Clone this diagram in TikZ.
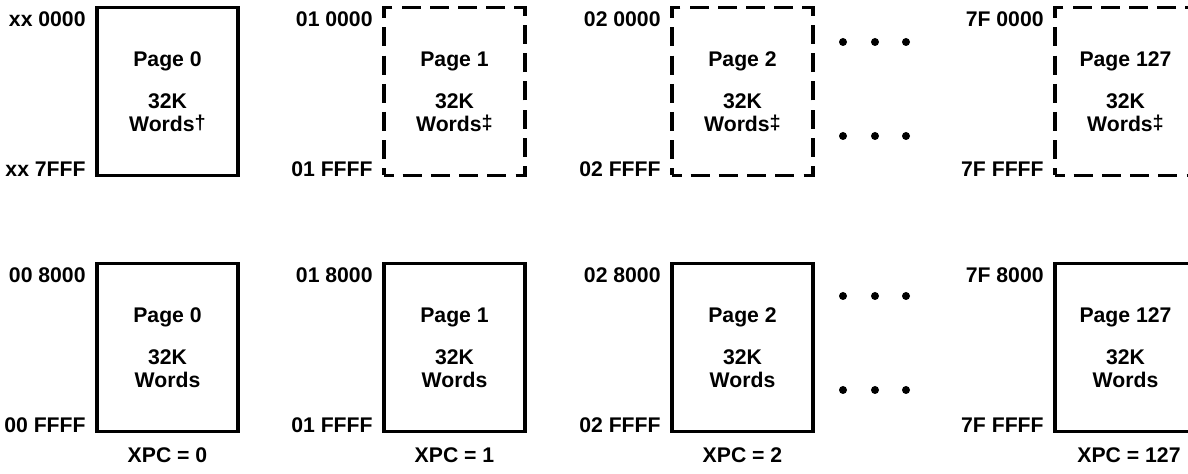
\documentclass[tikz,border=0pt]{standalone}
\usepackage{fontspec}
\setmainfont{Liberation Sans}
\usetikzlibrary{calc}

\tikzset{
  page/.style={draw, line width=1.6pt, rectangle, outer sep=0pt, inner sep=0pt,
    minimum width=70.5pt, minimum height=84pt, align=center,
    font=\fontsize{10.6}{10.6}\selectfont\bfseries},
  ghost/.style={page, dash pattern=on 9.5pt off 4.6pt, dash phase=4.75pt},
  addr/.style={inner sep=0pt, font=\fontsize{10.6}{10.6}\selectfont\bfseries},
  xpc/.style={inner sep=0pt, font=\fontsize{10.6}{10.6}\selectfont\bfseries}
}
\newcommand{\pgtext}[2]{#1\\[10.4pt]32K\\[1pt]Words#2}
\newcommand{\dg}{\raisebox{1pt}{\fontsize{10}{10}\selectfont †}}
\newcommand{\ddg}{\raisebox{1pt}{\fontsize{10}{10}\selectfont ‡}}

\begin{document}
\begin{tikzpicture}[x=0.5pt, y=-0.5pt]
\useasboundingbox (0,0) rectangle (1188,474);

% Top row
\node[page]  (hi0)   at (167.5,91.5)  {\pgtext{Page 0}{\dg}};
\node[ghost] (hi1)   at (454.5,91.5)  {\pgtext{Page 1}{\ddg}};
\node[ghost] (hi2)   at (742.5,91.5)  {\pgtext{Page 2}{\ddg}};
\node[ghost] (hi127) at (1125.5,91.5) {\pgtext{Page 127}{\ddg}};

% Top row addresses
\node[addr, anchor=base east] (hi0a) at ($(hi0.north west)+(-11,19.5)$) {xx 0000};
\node[addr, anchor=base east] (hi0b) at ($(hi0.south west)+(-11,1)$)    {xx 7FFF};
\node[addr, anchor=base east] (hi1a) at ($(hi1.north west)+(-11,19.5)$) {01 0000};
\node[addr, anchor=base east] (hi1b) at ($(hi1.south west)+(-11,1)$)    {01 FFFF};
\node[addr, anchor=base east] (hi2a) at ($(hi2.north west)+(-11,19.5)$) {02 0000};
\node[addr, anchor=base east] (hi2b) at ($(hi2.south west)+(-11,1)$)    {02 FFFF};
\node[addr, anchor=base east] (hi127a) at ($(hi127.north west)+(-11,19.5)$) {7F 0000};
\node[addr, anchor=base east] (hi127b) at ($(hi127.south west)+(-11,1)$)    {7F FFFF};

% Bottom row
\node[page] (lo0)   at (167.5,347.5)  {\pgtext{Page 0}{}};
\node[page] (lo1)   at (454.5,347.5)  {\pgtext{Page 1}{}};
\node[page] (lo2)   at (742.5,347.5)  {\pgtext{Page 2}{}};
\node[page] (lo127) at (1125.5,347.5) {\pgtext{Page 127}{}};

% Bottom row addresses
\node[addr, anchor=base east] (lo0a) at ($(lo0.north west)+(-11,19.5)$) {00 8000};
\node[addr, anchor=base east] (lo0b) at ($(lo0.south west)+(-11,1)$)    {00 FFFF};
\node[addr, anchor=base east] (lo1a) at ($(lo1.north west)+(-11,19.5)$) {01 8000};
\node[addr, anchor=base east] (lo1b) at ($(lo1.south west)+(-11,1)$)    {01 FFFF};
\node[addr, anchor=base east] (lo2a) at ($(lo2.north west)+(-11,19.5)$) {02 8000};
\node[addr, anchor=base east] (lo2b) at ($(lo2.south west)+(-11,1)$)    {02 FFFF};
\node[addr, anchor=base east] (lo127a) at ($(lo127.north west)+(-11,19.5)$) {7F 8000};
\node[addr, anchor=base east] (lo127b) at ($(lo127.south west)+(-11,1)$)    {7F FFFF};

% XPC values
\node[xpc] (x0)   at (167.5,455)  {XPC = 0};
\node[xpc] (x1)   at (454.5,455)  {XPC = 1};
\node[xpc] (x2)   at (742.5,455)  {XPC = 2};
\node[xpc] (x127) at (1129,455)   {XPC = 127};

% Ellipsis dots
\foreach \y in {42,136,296,390}
  \foreach \x in {843,875,906}
    \fill (\x,\y) circle[radius=2pt];
\end{tikzpicture}
\end{document}
